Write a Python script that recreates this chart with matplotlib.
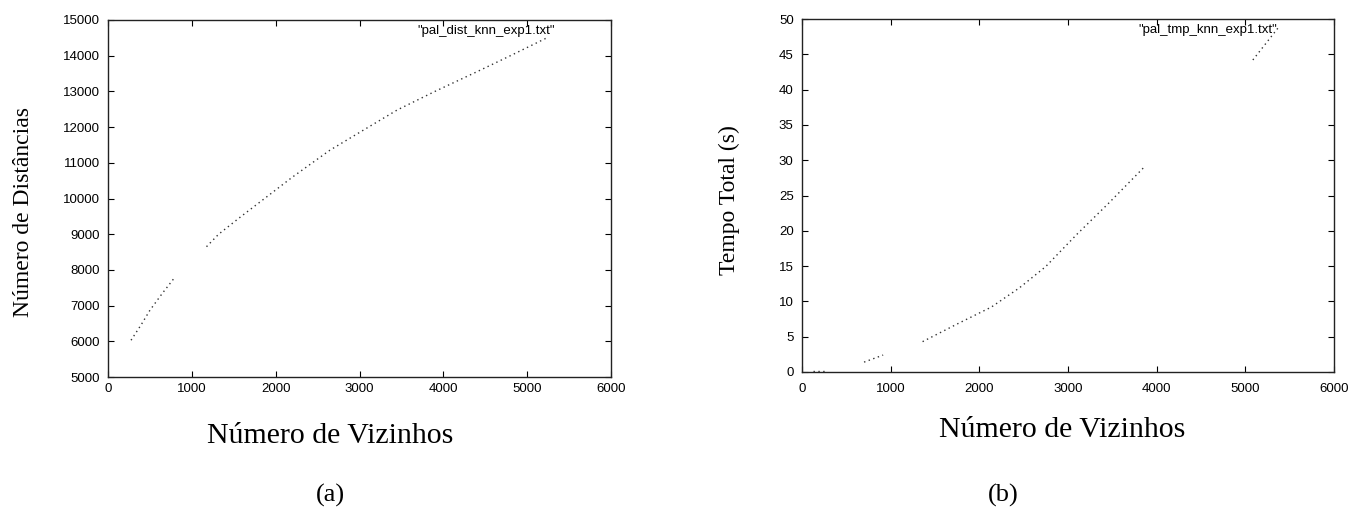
import matplotlib
matplotlib.use("Agg")
import matplotlib.pyplot as plt

# Data (a): number of distances vs number of neighbours
dist_x_seg1 = [275, 400, 500, 650, 800]
dist_y_seg1 = [6030, 6480, 6870, 7350, 7800]
dist_x_seg2 = [1175, 1320, 1600, 1840, 2200, 2645, 3000, 3450, 3900, 4400, 4800, 5235]
dist_y_seg2 = [8650, 9000, 9520, 9950, 10600, 11350, 11850, 12480, 13000, 13550, 14000, 14500]
label_a = '"pal_dist_knn_exp1.txt"'

# Data (b): total time vs number of neighbours
tmp_x_seg1 = [120, 260]
tmp_y_seg1 = [0.2, 0.2]
tmp_x_seg2 = [700, 915]
tmp_y_seg2 = [1.4, 2.4]
tmp_x_seg3 = [1360, 1750, 2136, 2450, 2746, 3100, 3450, 3873]
tmp_y_seg3 = [4.3, 6.8, 9.2, 11.9, 14.9, 19.5, 23.8, 29.2]
tmp_x_seg4 = [5085, 5367]
tmp_y_seg4 = [44.2, 48.7]
label_b = '"pal_tmp_knn_exp1.txt"'

xticks = [0, 1000, 2000, 3000, 4000, 5000, 6000]
yticks_a = [5000, 6000, 7000, 8000, 9000, 10000, 11000, 12000, 13000, 14000, 15000]
yticks_b = [0, 5, 10, 15, 20, 25, 30, 35, 40, 45, 50]

tick_font = ["Liberation Sans Narrow", "Liberation Sans", "DejaVu Sans"]
serif = ["Liberation Serif", "DejaVu Serif"]

W, H = 1352, 521
fig = plt.figure(figsize=(W / 100, H / 100), dpi=100)

def px_axes(x0, x1, y0, y1):
    return fig.add_axes([x0 / W, 1 - y1 / H, (x1 - x0) / W, (y1 - y0) / H])

axA = px_axes(108, 611, 20, 377)
axB = px_axes(802, 1334, 19, 372)

line_kw = dict(color="#333333", lw=1.0, ls=(0, (1, 2.5)))

for x, y in [(dist_x_seg1, dist_y_seg1), (dist_x_seg2, dist_y_seg2)]:
    axA.plot(x, y, **line_kw)
for x, y in [(tmp_x_seg1, tmp_y_seg1), (tmp_x_seg2, tmp_y_seg2),
             (tmp_x_seg3, tmp_y_seg3), (tmp_x_seg4, tmp_y_seg4)]:
    axB.plot(x, y, **line_kw)

for ax, yt, xpad in [(axA, yticks_a, 4), (axB, yticks_b, 8)]:
    ax.set_xlim(0, 6000)
    ax.set_ylim(yt[0], yt[-1])
    ax.set_xticks(xticks)
    ax.set_yticks(yt)
    ax.tick_params(direction="in", length=4, width=0.8, top=True, right=True,
                   labelsize=9.5)
    ax.tick_params(axis="x", pad=xpad)
    ax.tick_params(axis="y", pad=6)
    for lab in ax.get_xticklabels() + ax.get_yticklabels():
        lab.set_family(tick_font)
    for s in ax.spines.values():
        s.set_linewidth(1.0)
        s.set_color("#222222")

def ftxt(px, py, s, **kw):
    fig.text(px / W, 1 - py / H, s, ha="center", va="center", family=serif, **kw)

ftxt(330, 436, "Número de Vizinhos", fontsize=21.5)
ftxt(1062, 430, "Número de Vizinhos", fontsize=21.5)
ftxt(24, 212, "Número de Distâncias", fontsize=17, rotation=90)
ftxt(729, 200, "Tempo Total (s)", fontsize=17, rotation=90)
ftxt(330, 495, "(a)", fontsize=19)
ftxt(1003, 495, "(b)", fontsize=19)

fig.text(555 / W, 1 - 31 / H, label_a, ha="right", va="center",
         fontsize=9.5, family=tick_font)
fig.text(1277 / W, 1 - 30 / H, label_b, ha="right", va="center",
         fontsize=9.5, family=tick_font)

fig.savefig("out.png", dpi=100)
